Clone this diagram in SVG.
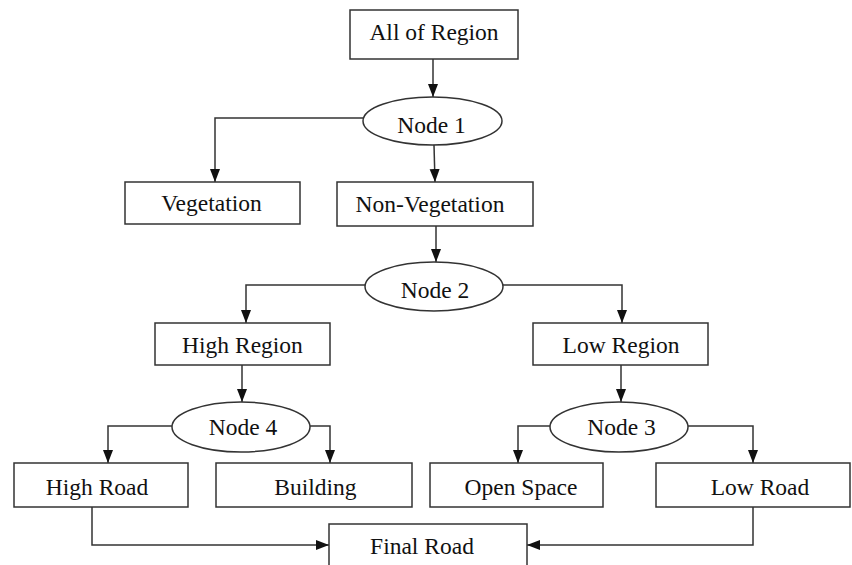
<svg xmlns="http://www.w3.org/2000/svg" width="852" height="565" viewBox="0 0 852 565">
<defs>
<style>
.box{fill:#fff;stroke:#333;stroke-width:1.5}
.lbl{font-family:"Liberation Serif","Times New Roman",serif;font-size:23.5px;fill:#111;text-anchor:middle}
.con{fill:none;stroke:#333;stroke-width:1.5;marker-end:url(#arr)}
</style>
<marker id="arr" markerUnits="userSpaceOnUse" markerWidth="14" markerHeight="11" refX="13" refY="5" orient="auto">
<path d="M0,0 L13,5 L0,10 z" fill="#111"/>
</marker>
</defs>
<rect width="852" height="565" fill="#fff"/>
<g id="connectors">
<path class="con" d="M433,59 V97"/>
<path class="con" d="M363,118 H215 V182"/>
<path class="con" d="M434,145 L435,182"/>
<path class="con" d="M436,226 V262"/>
<path class="con" d="M365,285 H246 V323"/>
<path class="con" d="M503,285 H622 V323"/>
<path class="con" d="M242,365 V402"/>
<path class="con" d="M621,365 V402"/>
<path class="con" d="M173,426 H108 V463"/>
<path class="con" d="M309,426 H330 V463"/>
<path class="con" d="M551,426 H518 V463"/>
<path class="con" d="M687,426 H753 V463"/>
<path class="con" d="M92,507 V545 H329"/>
<path class="con" d="M753,507 V545 H527"/>
</g>
<g id="all-of-region"><rect class="box" x="350" y="10" width="168" height="49"/><text class="lbl" x="434" y="40">All of Region</text></g>
<g id="node1"><ellipse class="box" cx="432.5" cy="121" rx="69.5" ry="24"/><text class="lbl" x="431.5" y="133">Node 1</text></g>
<g id="vegetation"><rect class="box" x="125" y="182" width="175" height="42"/><text class="lbl" x="211.5" y="210.5">Vegetation</text></g>
<g id="non-vegetation"><rect class="box" x="337" y="182" width="196" height="44"/><text class="lbl" x="430" y="211.5">Non-Vegetation</text></g>
<g id="node2"><ellipse class="box" cx="434" cy="286.5" rx="69" ry="24.5"/><text class="lbl" x="435" y="297.5">Node 2</text></g>
<g id="high-region"><rect class="box" x="155" y="323" width="175" height="42"/><text class="lbl" x="242.5" y="352.5">High Region</text></g>
<g id="low-region"><rect class="box" x="533" y="323" width="175" height="42"/><text class="lbl" x="621" y="352.5">Low Region</text></g>
<g id="node4"><ellipse class="box" cx="241" cy="427" rx="69" ry="25"/><text class="lbl" x="243" y="435">Node 4</text></g>
<g id="node3"><ellipse class="box" cx="619" cy="427" rx="69" ry="25"/><text class="lbl" x="621.5" y="435">Node 3</text></g>
<g id="high-road"><rect class="box" x="14" y="463" width="174" height="44"/><text class="lbl" x="97" y="495">High Road</text></g>
<g id="building"><rect class="box" x="216" y="463" width="196" height="44"/><text class="lbl" x="315.5" y="495">Building</text></g>
<g id="open-space"><rect class="box" x="430" y="463" width="173" height="44"/><text class="lbl" x="521" y="495">Open Space</text></g>
<g id="low-road"><rect class="box" x="656" y="463" width="194" height="44"/><text class="lbl" x="760" y="494.5">Low Road</text></g>
<g id="final-road"><rect class="box" x="329" y="524" width="198" height="52"/><text class="lbl" x="422" y="554">Final Road</text></g>
</svg>
